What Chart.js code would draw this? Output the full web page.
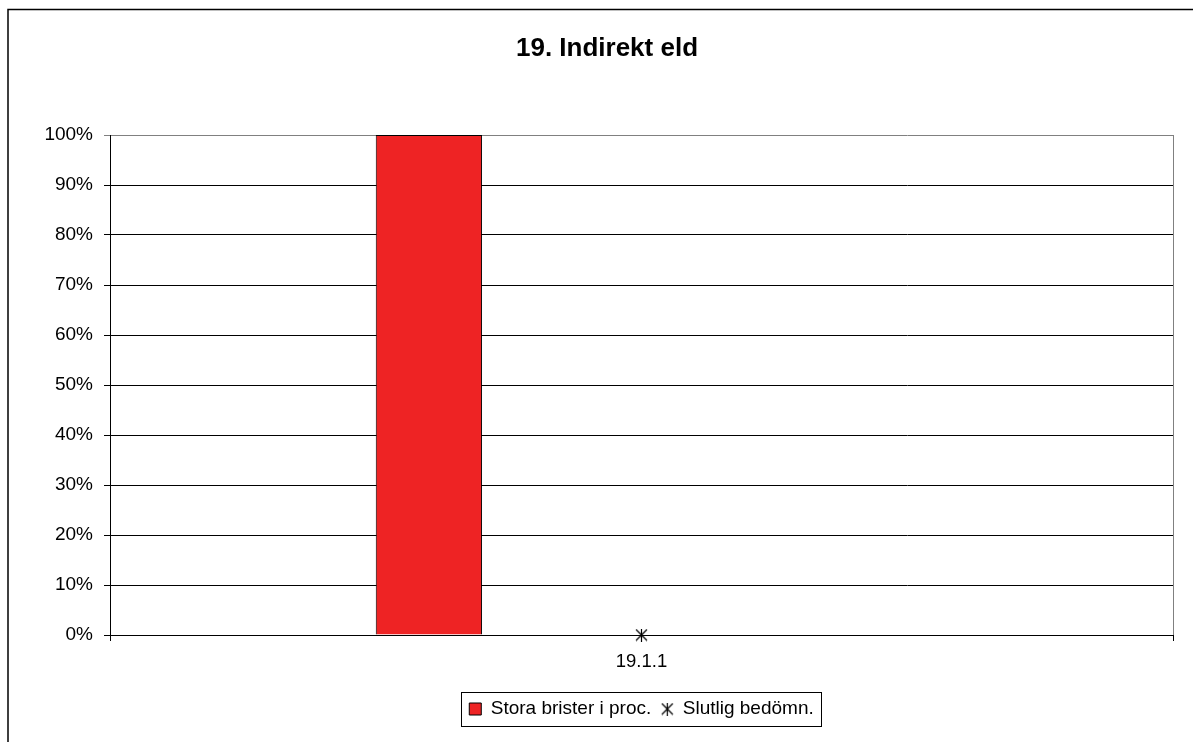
<!DOCTYPE html>
<html><head><meta charset="utf-8">
<script src="https://cdn.jsdelivr.net/npm/chart.js@4"></script>
<style>html,body{margin:0;padding:0;background:#fff}#wrap{width:1193px;height:742px}</style>
</head><body><div id="wrap"><canvas id="c" width="1193" height="742"></canvas></div>
<script>
const titleText = '19. Indirekt eld';
const categories = ['19.1.1'];
const storaBrister = [100];
const slutligBedomn = [0];
const emptySeries = [null];
const legendLabels = ['Stora brister i proc.', 'Slutlig bedömn.'];
const yTickStep = 10;
const yMin = 0, yMax = 100;

const FONT = 'Liberation Sans, Arial, sans-serif';
const barRed = '#ee2324';

function makeStar(size){
  const c = document.createElement('canvas');
  c.width = size; c.height = size;
  const x = c.getContext('2d');
  x.strokeStyle = '#000'; x.lineWidth = 1.2;
  x.beginPath();
  x.moveTo(1,1); x.lineTo(size-1,size-1);
  x.moveTo(size-1,1); x.lineTo(1,size-1);
  x.moveTo(size/2,0); x.lineTo(size/2,size);
  x.stroke();
  return c;
}
const starImg = makeStar(13);

function barSlot(data, label){
  return {type:'bar', label, data, backgroundColor:barRed, borderColor:'#000', borderWidth:1,
    categoryPercentage:0.9, barPercentage:1.0};
}
const datasets = [
  barSlot(emptySeries,'s1'), barSlot(emptySeries,'s2'),
  barSlot(storaBrister, legendLabels[0]),
  barSlot(emptySeries,'s4'), barSlot(emptySeries,'s5'), barSlot(emptySeries,'s6'),
  barSlot(emptySeries,'s7'), barSlot(emptySeries,'s8'), barSlot(emptySeries,'s9'),
  {type:'line', label:legendLabels[1], data:slutligBedomn, showLine:false, pointStyle:starImg,
   borderColor:'#000', backgroundColor:'#000', clip:false, pointRadius:6}
];

const decor = {
  id:'decor',
  afterDraw(chart){
    const ctx = chart.ctx, a = chart.chartArea;
    ctx.save();
    // outer frame (top & left visible)
    ctx.strokeStyle = '#000'; ctx.lineWidth = 1.5;
    ctx.beginPath(); ctx.moveTo(8, 742); ctx.lineTo(8, 9.5); ctx.lineTo(1193, 9.5); ctx.stroke();
    // plot area border right (gray)
    ctx.strokeStyle = '#808080'; ctx.lineWidth = 1;
    ctx.beginPath(); ctx.moveTo(Math.round(a.right)+0.5, a.top); ctx.lineTo(Math.round(a.right)+0.5, a.bottom); ctx.stroke();
    // legend box
    const hb = chart.legend.legendHitBoxes;
    if (hb && hb.length){
      const l = hb[0].left - 8, r = hb[hb.length-1].left + hb[hb.length-1].width + 8;
      const cy = hb[0].top + hb[0].height/2;
      ctx.strokeStyle = '#000'; ctx.lineWidth = 1;
      ctx.strokeRect(Math.round(l)+0.5, Math.round(cy-17)+0.5, Math.round(r-l), 34);
    }
    ctx.restore();
  }
};

new Chart(document.getElementById('c'), {
  data:{labels:categories, datasets},
  options:{
    responsive:false, animation:false, devicePixelRatio:1,
    layout:{padding:{left:41, right:20, top:0, bottom:13.5}},
    plugins:{
      title:{display:true, text:titleText, color:'#000', font:{family:FONT, size:26, weight:'bold'}, padding:{top:33, bottom:70.8}},
      legend:{position:'bottom', fullSize:false, labels:{usePointStyle:true, boxWidth:12, boxHeight:12, padding:10, color:'#000',
        font:{family:FONT, size:19},
        generateLabels(){
          return [
            {text:legendLabels[0], fillStyle:barRed, strokeStyle:'#000', lineWidth:1, pointStyle:'rect', datasetIndex:2, hidden:false},
            {text:legendLabels[1], fillStyle:'#000', strokeStyle:'#000', lineWidth:1, pointStyle:starImg, datasetIndex:9, hidden:false}
          ];
        }}},
      tooltip:{enabled:false}
    },
    scales:{
      x:{offset:true,
        grid:{display:true, drawOnChartArea:false, offset:true, tickLength:6, color:'#000', tickColor:'#000'},
        border:{display:true, color:'#000'},
        ticks:{color:'#000', font:{family:FONT, size:18.5}, padding:10},
        afterFit(s){ s.height = 54.5; }},
      y:{min:yMin, max:yMax,
        ticks:{stepSize:yTickStep, callback:v=>v+'%', color:'#000', font:{family:FONT, size:19}, padding:11},
        grid:{color:c=> (c.tick && c.tick.value===yMax) ? '#808080' : '#000', tickLength:6},
        border:{display:true, color:'#000'},
        afterFit(s){ s.width = 69; }}
    }
  },
  plugins:[decor]
});
</script></body></html>
